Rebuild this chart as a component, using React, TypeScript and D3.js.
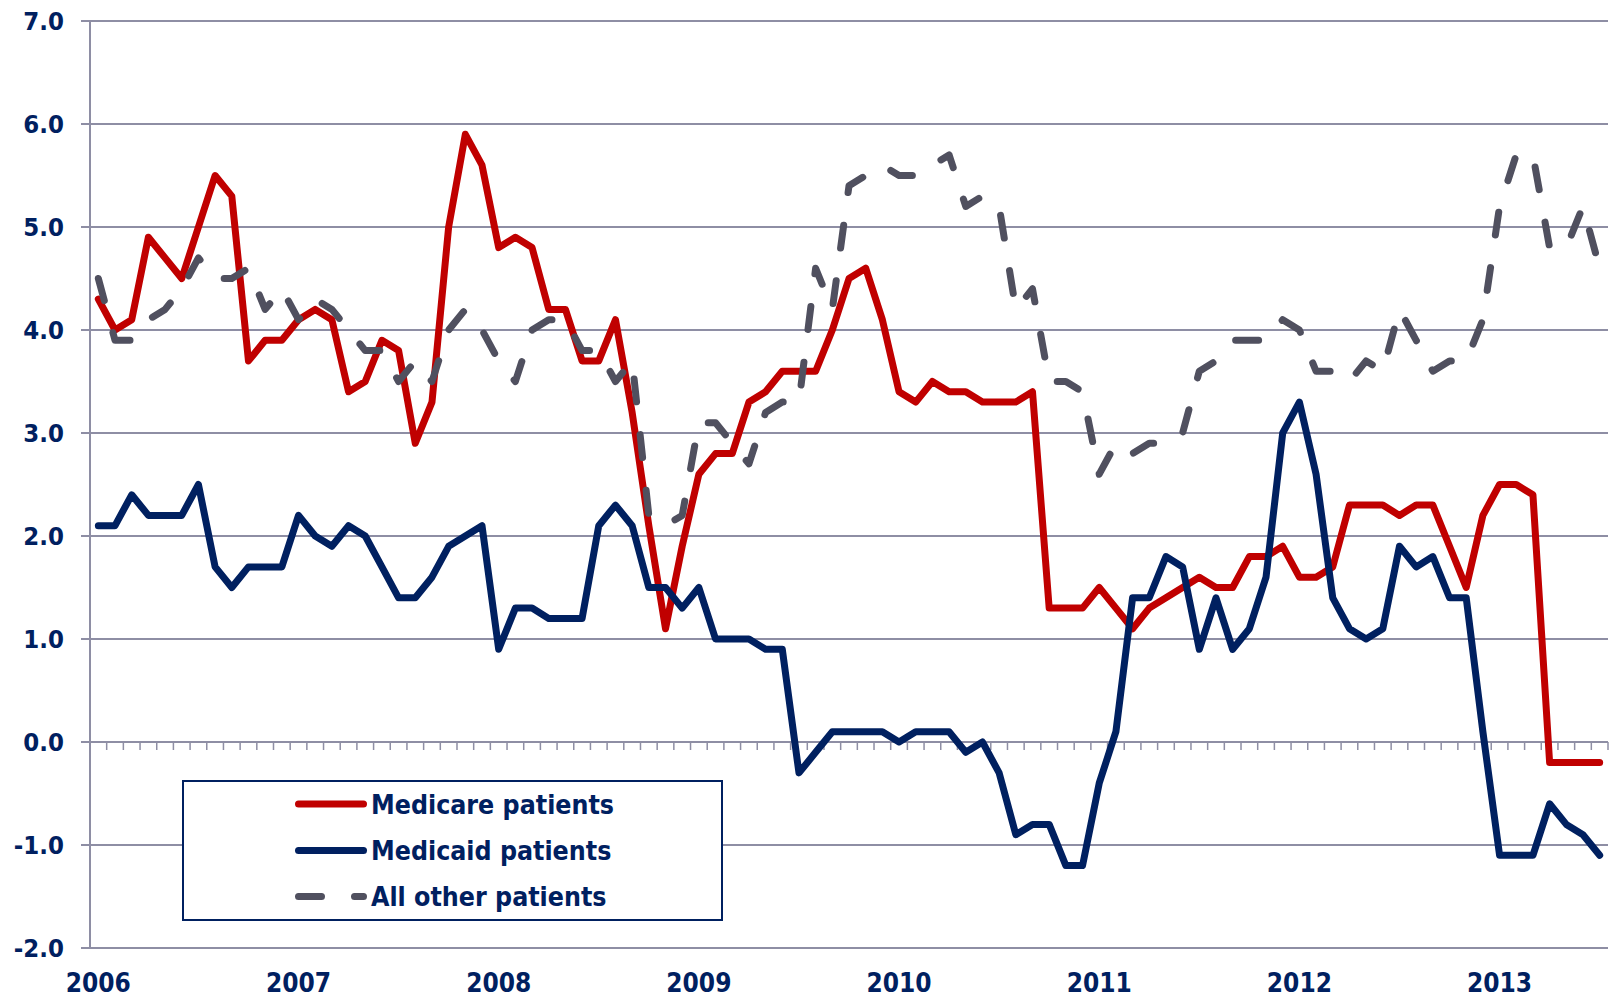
import React from 'react';
import * as d3 from 'd3';

// monthly categories, Jan 2006 .. Jul 2013
const months = d3.timeMonth.range(new Date(2006, 0, 1), new Date(2013, 7, 1));
const yearLabels = ['2006', '2007', '2008', '2009', '2010', '2011', '2012', '2013'];
const yTicks = [-2, -1, 0, 1, 2, 3, 4, 5, 6, 7];

const medicare = [
  4.3, 4.0, 4.1, 4.9, 4.7, 4.5, 5.0, 5.5, 5.3, 3.7, 3.9, 3.9,
  4.1, 4.2, 4.1, 3.4, 3.5, 3.9, 3.8, 2.9, 3.3, 5.0, 5.9, 5.6,
  4.8, 4.9, 4.8, 4.2, 4.2, 3.7, 3.7, 4.1, 3.2, 2.1, 1.1, 1.9,
  2.6, 2.8, 2.8, 3.3, 3.4, 3.6, 3.6, 3.6, 4.0, 4.5, 4.6, 4.1,
  3.4, 3.3, 3.5, 3.4, 3.4, 3.3, 3.3, 3.3, 3.4, 1.3, 1.3, 1.3,
  1.5, 1.3, 1.1, 1.3, 1.4, 1.5, 1.6, 1.5, 1.5, 1.8, 1.8, 1.9,
  1.6, 1.6, 1.7, 2.3, 2.3, 2.3, 2.2, 2.3, 2.3, 1.9, 1.5, 2.2,
  2.5, 2.5, 2.4, -0.2, -0.2, -0.2, -0.2,
];

const medicaid = [
  2.1, 2.1, 2.4, 2.2, 2.2, 2.2, 2.5, 1.7, 1.5, 1.7, 1.7, 1.7,
  2.2, 2.0, 1.9, 2.1, 2.0, 1.7, 1.4, 1.4, 1.6, 1.9, 2.0, 2.1,
  0.9, 1.3, 1.3, 1.2, 1.2, 1.2, 2.1, 2.3, 2.1, 1.5, 1.5, 1.3,
  1.5, 1.0, 1.0, 1.0, 0.9, 0.9, -0.3, -0.1, 0.1, 0.1, 0.1, 0.1,
  0.0, 0.1, 0.1, 0.1, -0.1, 0.0, -0.3, -0.9, -0.8, -0.8, -1.2, -1.2,
  -0.4, 0.1, 1.4, 1.4, 1.8, 1.7, 0.9, 1.4, 0.9, 1.1, 1.6, 3.0,
  3.3, 2.6, 1.4, 1.1, 1.0, 1.1, 1.9, 1.7, 1.8, 1.4, 1.4, 0.1,
  -1.1, -1.1, -1.1, -0.6, -0.8, -0.9, -1.1,
];

const allOther = [
  4.5, 3.9, 3.9, 4.1, 4.2, 4.4, 4.7, 4.5, 4.5, 4.6, 4.2, 4.4,
  4.1, 4.3, 4.2, 4.0, 3.8, 3.8, 3.5, 3.7, 3.5, 4.0, 4.2, 4.0,
  3.7, 3.5, 4.0, 4.1, 4.1, 3.8, 3.8, 3.5, 3.7, 2.2, 2.1, 2.2,
  3.1, 3.1, 2.9, 2.7, 3.2, 3.3, 3.3, 4.6, 4.2, 5.4, 5.5, 5.6,
  5.5, 5.5, 5.6, 5.7, 5.2, 5.3, 5.2, 4.2, 4.4, 3.5, 3.5, 3.4,
  2.6, 2.9, 2.8, 2.9, 2.9, 3.0, 3.6, 3.7, 3.9, 3.9, 3.9, 4.1,
  4.0, 3.6, 3.6, 3.5, 3.7, 3.6, 4.2, 3.9, 3.6, 3.7, 3.7, 4.1,
  5.2, 5.7, 5.7, 4.8, 4.8, 5.2, 4.6,
];

const NAVY = '#002060';
const RED = '#c00000';
const GRAY = '#50505f';
const GRID = '#8e8ea4';
const FONT = "'DejaVu Sans Condensed', 'DejaVu Sans', sans-serif";

const series = [
  { name: 'Medicare patients', values: medicare, color: RED, dash: null },
  { name: 'Medicaid patients', values: medicaid, color: NAVY, dash: null },
  { name: 'All other patients', values: allOther, color: GRAY, dash: '23 33' },
];

export default function App() {
  const W = 1610;
  const H = 997;
  const left = 90;
  const right = 1608;
  const top = 21;
  const bottom = 948;

  const x = d3
    .scaleBand<number>()
    .domain(d3.range(months.length))
    .range([left, right])
    .padding(0);
  const y = d3.scaleLinear().domain([-2, 7]).range([bottom, top]);
  const cx = (i: number) => (x(i) as number) + x.bandwidth() / 2;

  const line = d3
    .line<number>()
    .x((_, i) => cx(i))
    .y(d => y(d));

  // plain hyphen for negatives, as in the original
  const fmt = (v: number) => d3.format('.1f')(v).replace('\u2212', '-');
  const minorTicks = d3.range(1, months.length + 1).map(k => left + k * x.bandwidth());

  // legend
  const lg = { x: 183, y: 781, w: 539, h: 139 };
  const rows = [804, 850.5, 896.5];

  return (
    <div style={{ position: 'absolute', left: 0, top: 0 }}>
      <svg width={W} height={H} style={{ display: 'block', background: '#fff' }}>
        {/* gridlines */}
        {yTicks.map(t => (
          <line key={t} x1={left - 9} x2={right} y1={y(t)} y2={y(t)} stroke={GRID} strokeWidth={2} />
        ))}
        {/* y axis */}
        <line x1={left} x2={left} y1={top} y2={bottom} stroke={GRID} strokeWidth={2} />
        {/* minor category ticks along zero */}
        {minorTicks.map((mx, k) => (
          <line key={k} x1={mx} x2={mx} y1={y(0)} y2={y(0) + 8} stroke={GRID} strokeWidth={1.5} />
        ))}
        {/* y labels */}
        {yTicks.map(t => (
          <text
            key={t}
            x={64}
            y={y(t)}
            dy="0.36em"
            textAnchor="end"
            fontFamily={FONT}
            fontWeight="bold"
            fontSize={25.5}
            fill={NAVY}
          >
            {fmt(t)}
          </text>
        ))}
        {/* x labels */}
        {yearLabels.map((yr, j) => (
          <text
            key={yr}
            x={cx(j * 12)}
            y={992}
            textAnchor="middle"
            fontFamily={FONT}
            fontWeight="bold"
            fontSize={26}
            fill={NAVY}
          >
            {yr}
          </text>
        ))}
        {/* series */}
        {series.map(s => (
          <path
            key={s.name}
            d={line(s.values) || ''}
            fill="none"
            stroke={s.color}
            strokeWidth={7}
            strokeLinejoin="round"
            strokeLinecap="round"
            strokeDasharray={s.dash || undefined}
          />
        ))}
        {/* legend */}
        <rect x={lg.x} y={lg.y} width={lg.w} height={lg.h} fill="#fff" stroke={NAVY} strokeWidth={2} />
        {series.map((s, i) => (
          <g key={s.name}>
            <line
              x1={298.5}
              x2={363.5}
              y1={rows[i]}
              y2={rows[i]}
              stroke={s.color}
              strokeWidth={7}
              strokeLinecap="round"
              strokeDasharray={s.dash || undefined}
            />
            <text
              x={371}
              y={rows[i]}
              dy="0.36em"
              fontFamily={FONT}
              fontWeight="bold"
              fontSize={26.5}
              fill={NAVY}
            >
              {s.name}
            </text>
          </g>
        ))}
      </svg>
    </div>
  );
}
